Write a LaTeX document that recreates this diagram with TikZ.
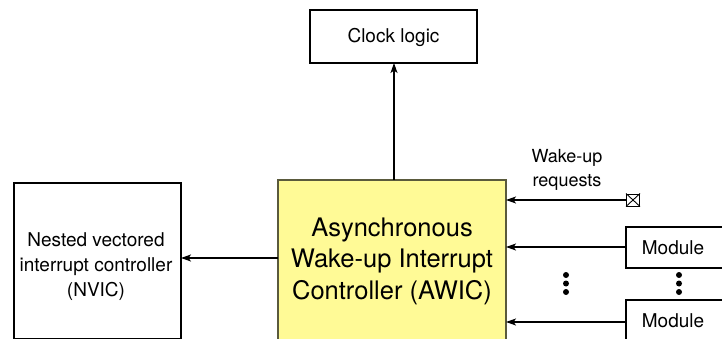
\documentclass[tikz,border=0pt]{standalone}
\usepackage{fontspec}
\setmainfont{TeX Gyre Heros}
\usetikzlibrary{arrows.meta}
\definecolor{awicfill}{RGB}{255,250,150}
\definecolor{awicline}{RGB}{90,90,60}
\tikzset{
  blk/.style={draw=black, line width=1.2pt, fill=white},
  lbl/.style={font=\fontsize{19}{25}\selectfont, align=center, inner sep=0pt},
  conn/.style={line width=1.1pt, -{Stealth[length=10pt,width=7pt,inset=2.5pt]}},
  dotc/.style={fill=black, circle, inner sep=0pt, minimum size=6pt},
}
\begin{document}
\begin{tikzpicture}[x=1pt,y=-1pt]
\useasboundingbox (0,0) rectangle (722,339);
\begin{scope}
\clip (0,0) rectangle (722,339);
% Clock logic
\draw[blk] (310,10) rectangle (477,63);
\node[lbl] (clock) at (393.5,37) {Clock logic};
\coordinate (clockb) at (394,63);
% AWIC
\draw[draw=awicline, line width=1.3pt, fill=awicfill] (278,180) rectangle (506,360);
\node[lbl, font=\fontsize{25.5}{31.5}\selectfont] (awic) at (392,261) {Asynchronous\\Wake-up Interrupt\\Controller (AWIC)};
\coordinate (awict) at (394,180);
% NVIC
\draw[blk] (14,183) rectangle (181,338.5);
\node[lbl] (nvic) at (96,267) {Nested vectored\\interrupt controller\\(NVIC)};
\coordinate (nvicr) at (181,258);
\coordinate (awicl) at (278,258);
% Wake-up requests
\node[lbl, font=\fontsize{18}{24}\selectfont] (wur) at (567,170) {Wake-up\\requests};
\node[draw=black, line width=1pt, minimum width=13pt, minimum height=12pt, inner sep=0pt] (xbox) at (633,200) {};
\draw[line width=0.9pt] (xbox.north west) -- (xbox.south east) (xbox.north east) -- (xbox.south west);
% Modules
\draw[blk] (626,227) rectangle (740,268);
\node[lbl] (mod1) at (673,247.5) {Module};
\draw[blk] (626,300) rectangle (740,360);
\node[lbl] (mod2) at (673,321) {Module};
\coordinate (m1l) at (626,247);
\coordinate (m2l) at (626,322);
\coordinate (a1) at (506,200);
\coordinate (a2) at (506,247);
\coordinate (a3) at (506,322);
% dots
\foreach \y in {275,283.5,292} {
  \node[dotc] at (566,\y) {};
  \node[dotc] at (679,\y) {};
}
% connectors
\draw[conn] (awict) -- (clockb);
\draw[conn] (awicl) -- (nvicr);
\draw[conn] (xbox.west) -- (a1);
\draw[conn] (m1l) -- (a2);
\draw[conn] (m2l) -- (a3);
\end{scope}
\end{tikzpicture}
\end{document}
